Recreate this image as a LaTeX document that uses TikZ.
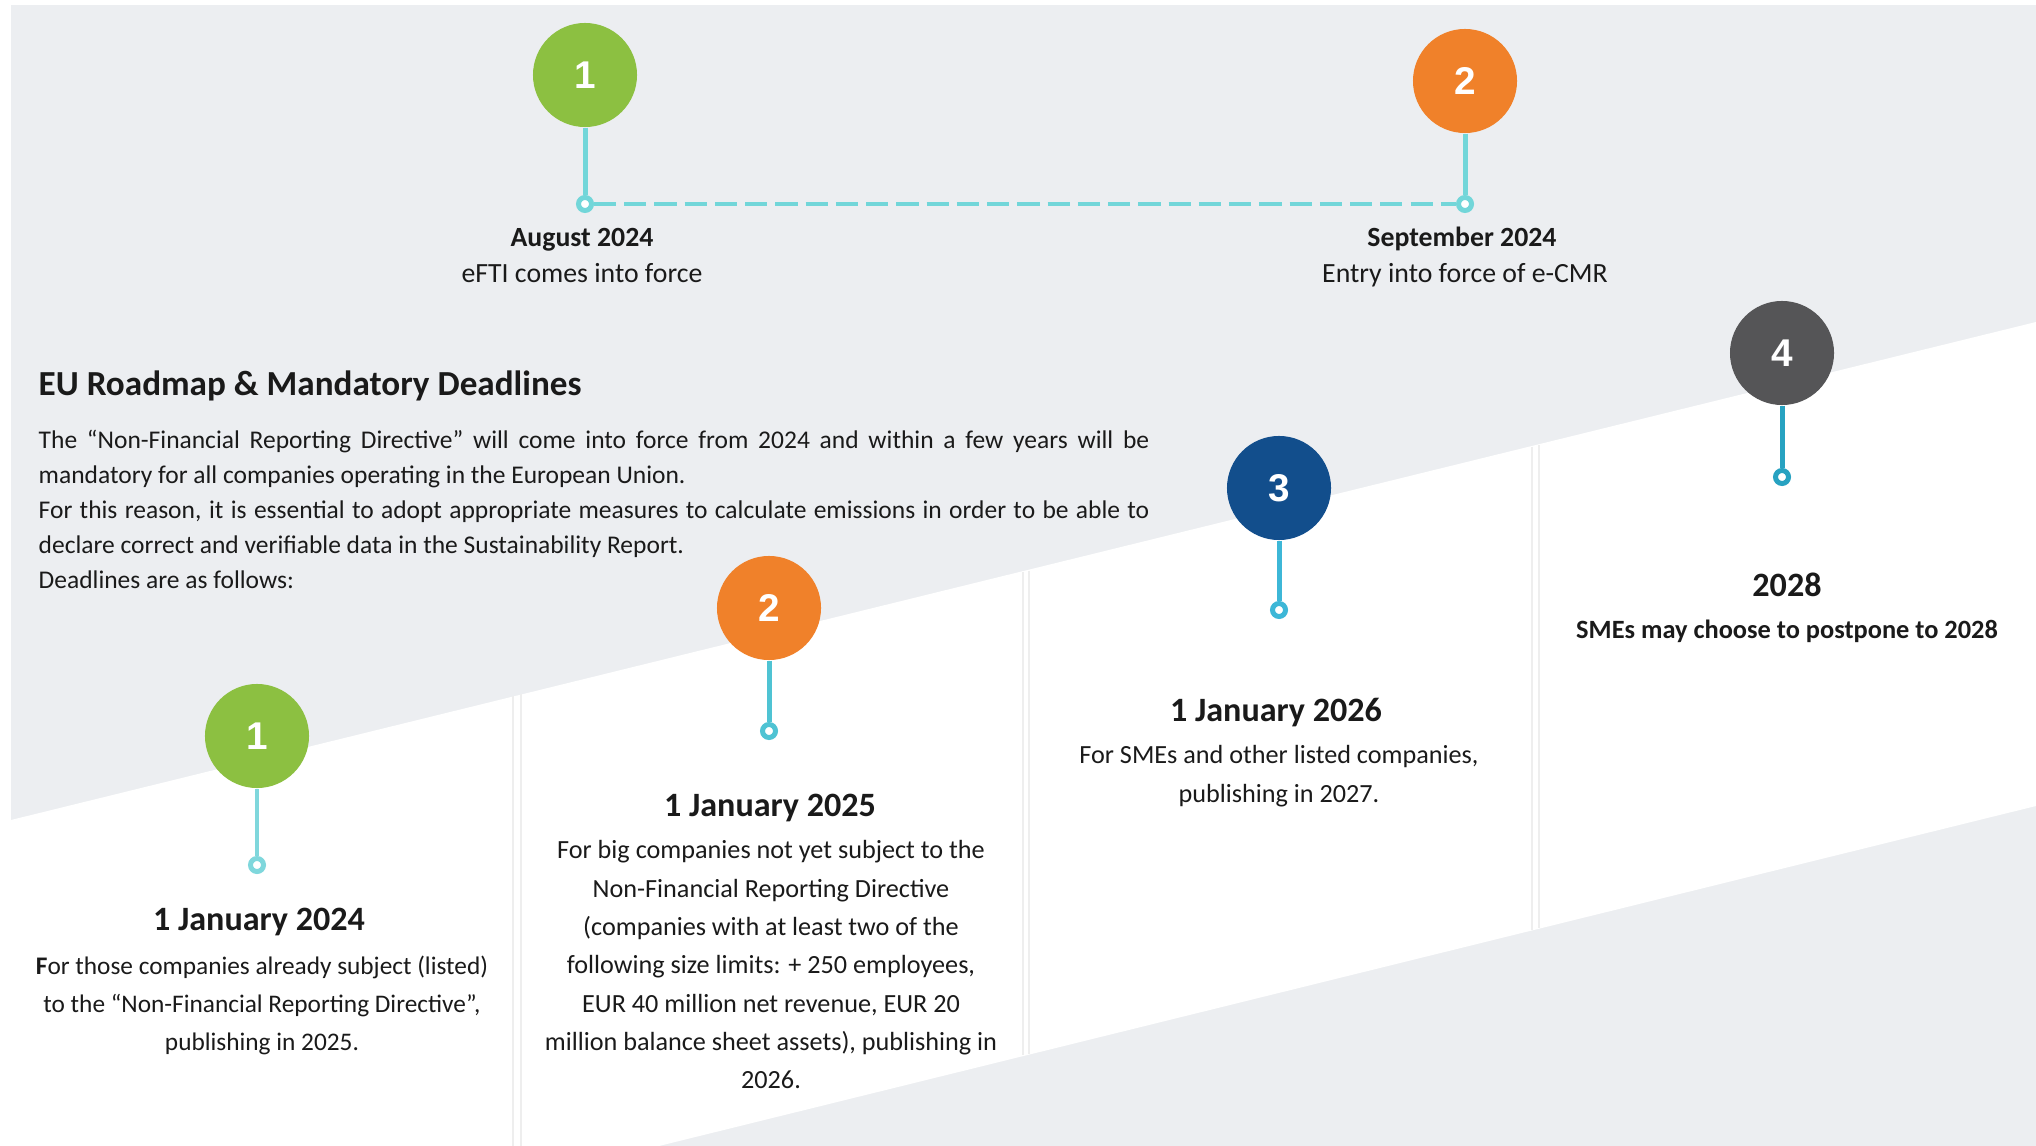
\documentclass[tikz,border=0pt]{standalone}
\usepackage{fontspec}
\setmainfont{Carlito}
\newfontfamily\numfont{Liberation Sans}
\definecolor{bggray}{HTML}{ECEEF1}
\definecolor{divgray}{HTML}{EEEEEE}
\definecolor{cgreen}{HTML}{8CC041}
\definecolor{corange}{HTML}{F0812A}
\definecolor{cnavy}{HTML}{124E8C}
\definecolor{cdark}{HTML}{555557}
\definecolor{stemtop}{HTML}{72D6D9}
\definecolor{stemA}{HTML}{7FD7DC}
\definecolor{stemB}{HTML}{4FC3D3}
\definecolor{stemC}{HTML}{3DB7D7}
\definecolor{stemD}{HTML}{27A2C1}
\definecolor{txt}{HTML}{1A1A1A}
\tikzset{
  bubble/.style={circle, minimum size=1.04cm, inner sep=0pt, text=white, font=\numfont\bfseries\fontsize{11}{13}\selectfont},
  ring/.style={circle, minimum size=0.13cm, inner sep=0pt, fill=white, line width=1.42pt},
  stem/.style={line width=1.42pt},
  lbl/.style={inner sep=0pt, text=txt, text height=0.7em, text depth=0.2em},
  datehead/.style={lbl, font=\bfseries\fontsize{9.7}{11}\selectfont},
  bodytxt/.style={inner sep=0pt, text=txt, align=center, font=\fontsize{7.45}{10.9}\selectfont},
  divider/.style={draw=divgray, line width=0.5pt}
}
\begin{document}
\begin{tikzpicture}[x=0.01cm,y=-0.01cm]
\useasboundingbox (0,0) rectangle (2036,1146);
% background
\fill[white] (0,0) rectangle (2036,1146);
\fill[bggray] (11,5) rectangle (2036,1146);
\fill[white] (11,820) -- (2036,322) -- (2036,806) -- (659,1146) -- (11,1146) -- cycle;
% column dividers
\draw[divider] (513,696) -- (513,1146);
\draw[divider] (521,694) -- (521,1146);
\draw[divider] (1023,572) -- (1023,1055);
\draw[divider] (1029,571) -- (1029,1054);
\draw[divider] (1532,447) -- (1532,930);
\draw[divider] (1539,445) -- (1539,928);

% top timeline
\node[bubble, fill=cgreen] (t1) at (585,75) {1};
\node[bubble, fill=corange] (t2) at (1465,81) {2};
\node[ring, draw=stemtop] (rt1) at (585,204) {};
\node[ring, draw=stemtop] (rt2) at (1465,204) {};
\draw[stem, stemtop] (t1.south) -- (rt1.north);
\draw[stem, stemtop] (t2.south) -- (rt2.north);
\draw[stemtop, line width=1.14pt, dash pattern=on 6.3pt off 2.3pt] (rt1.east) -- (rt2.west);
\node[lbl, font=\bfseries\fontsize{7.9}{9}\selectfont] (a1) at (582,238) {August 2024};
\node[lbl, font=\fontsize{7.9}{9}\selectfont] (a2) at (582,274) {eFTI comes into force};
\node[lbl, font=\bfseries\fontsize{7.9}{9}\selectfont] (s1) at (1462,238) {September 2024};
\node[lbl, font=\fontsize{7.9}{9}\selectfont] (s2) at (1465,274) {Entry into force of e-CMR};

% heading and paragraph
\node[lbl, anchor=west, font=\bfseries\fontsize{10}{12}\selectfont] (head) at (38,387) {EU Roadmap \& Mandatory Deadlines};
\begin{scope}[every node/.style={lbl, anchor=west, font=\fontsize{7.25}{9}\selectfont}]
\node (p1) at (38,440) {\makebox[11.1cm][s]{The “Non-Financial Reporting Directive” will come into force from 2024 and within a few years will be}};
\node (p2) at (38,475) {mandatory for all companies operating in the European Union.};
\node (p3) at (38,510) {\makebox[11.1cm][s]{For this reason, it is essential to adopt appropriate measures to calculate emissions in order to be able to}};
\node (p4) at (38,545) {declare correct and verifiable data in the Sustainability Report.};
\node (p5) at (38,580) {Deadlines are as follows:};
\end{scope}

% bottom bubbles
\node[bubble, fill=cgreen] (b1) at (257,736) {1};
\node[ring, draw=stemA] (rb1) at (257,865) {};
\draw[stem, stemA] (b1.south) -- (rb1.north);
\node[bubble, fill=corange] (b2) at (769,608) {2};
\node[ring, draw=stemB] (rb2) at (769,731) {};
\draw[stem, stemB] (b2.south) -- (rb2.north);
\node[bubble, fill=cnavy] (b3) at (1279,488) {3};
\node[ring, draw=stemC] (rb3) at (1279,610) {};
\draw[stem, stemC] (b3.south) -- (rb3.north);
\node[bubble, fill=cdark] (b4) at (1782,353) {4};
\node[ring, draw=stemD] (rb4) at (1782,477) {};
\draw[stem, stemD] (b4.south) -- (rb4.north);

% column texts
\node[datehead] (d1) at (259,922) {1 January 2024};
\node[bodytxt, anchor=north, font=\fontsize{7.2}{10.9}\selectfont] (x1) at (262,955) {\textbf{F}or those companies already subject (listed)\\to the “Non-Financial Reporting Directive”,\\publishing in 2025.};
\node[datehead] (d2) at (770,808) {1 January 2025};
\node[bodytxt, anchor=north] (x2) at (771,840) {For big companies not yet subject to the\\Non-Financial Reporting Directive\\(companies with at least two of the\\following size limits: + 250 employees,\\EUR 40 million net revenue, EUR 20\\million balance sheet assets), publishing in\\2026.};
\node[datehead] (d3) at (1276,713) {1 January 2026};
\node[bodytxt, anchor=north] (x3) at (1279,745) {For SMEs and other listed companies,\\publishing in 2027.};
\node[datehead] (d4) at (1787,588) {2028};
\node[lbl, font=\bfseries\fontsize{7.5}{9}\selectfont] (x4) at (1787,630) {SMEs may choose to postpone to 2028};
\end{tikzpicture}
\end{document}
